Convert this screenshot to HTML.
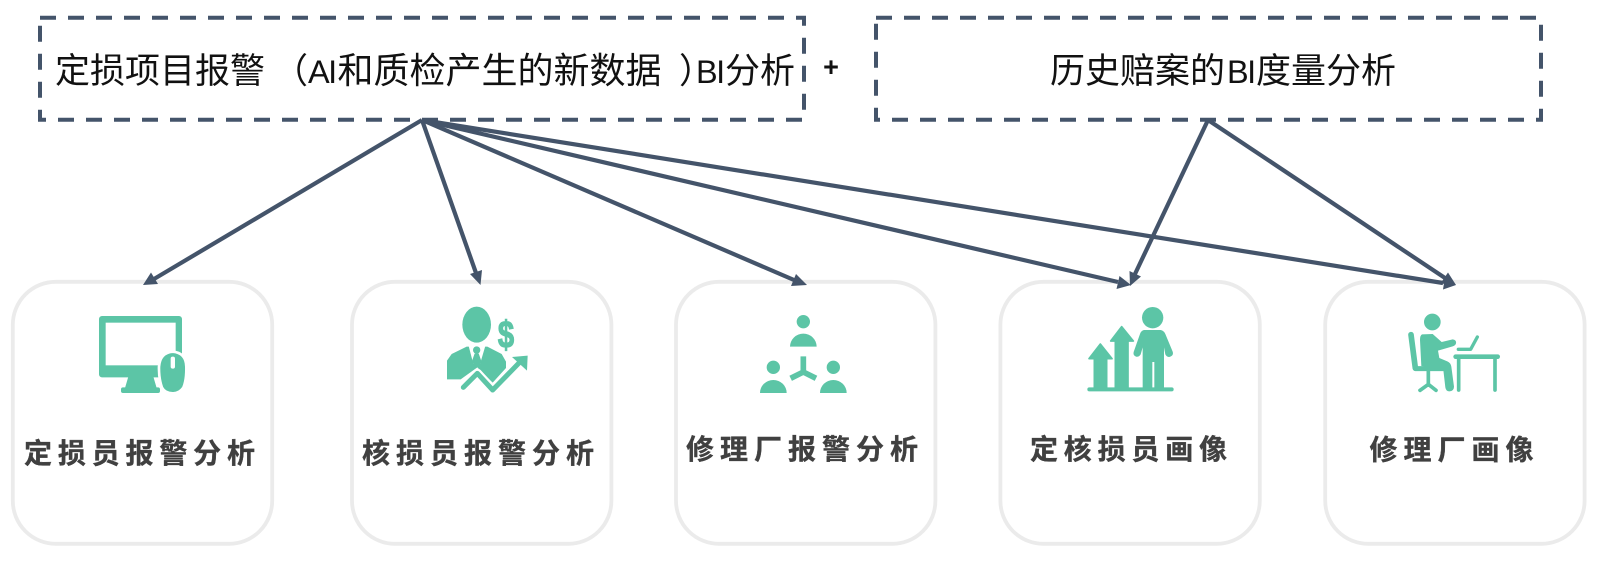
<!DOCTYPE html>
<html lang="zh">
<head>
<meta charset="utf-8">
<style>
html,body{margin:0;padding:0;background:#fff;width:1600px;height:570px;overflow:hidden}
svg{display:block}
.top{font-family:"Liberation Sans","Noto Sans CJK SC",sans-serif;font-size:35px;fill:#111;text-spacing-trim:space-all}
.lat{font-size:32.5px;letter-spacing:-1.5px}
.lab{font-family:"Liberation Sans","Noto Sans CJK SC",sans-serif;font-size:28px;font-weight:700;fill:#404040;stroke:#404040;stroke-width:.35}
.card{fill:#fff;stroke:#ebebeb;stroke-width:3.8}
.dash{fill:none;stroke:#44546a;stroke-width:4;stroke-dasharray:16 12}
.arr{stroke:#44546a;stroke-width:4.2;fill:none}
.hd{fill:#44546a}
.g{fill:#5cc5a6}
.gs{fill:none;stroke:#5cc5a6;stroke-linecap:round;stroke-linejoin:round}
</style>
</head>
<body>
<svg width="1600" height="570" viewBox="0 0 1600 570" xmlns="http://www.w3.org/2000/svg">
<!-- cards -->
<rect class="card" x="12.8" y="281.8" width="259.4" height="262" rx="43"/>
<rect class="card" x="352" y="281.8" width="259.4" height="262" rx="43"/>
<rect class="card" x="676" y="281.8" width="259.4" height="262" rx="43"/>
<rect class="card" x="1000.4" y="281.8" width="259.4" height="262" rx="43"/>
<rect class="card" x="1325.2" y="281.8" width="259.4" height="262" rx="43"/>

<!-- dashed boxes -->
<path class="dash" d="M40 17.7H804V119.7H40Z"/>
<path class="dash" d="M876 17.7H1541V119.7H876Z"/>

<text class="top" y="83"><tspan x="55">定损项目报警</tspan> <tspan x="273">（</tspan><tspan x="308" class="lat">AI</tspan><tspan x="337.5" font-size="36">和质检产生的新数据</tspan><tspan x="679">）</tspan><tspan x="696" class="lat">BI</tspan><tspan x="725">分析</tspan></text>
<text class="top" y="83"><tspan x="1050">历史赔案的</tspan><tspan x="1227" class="lat">BI</tspan><tspan x="1256">度量分析</tspan></text>
<text x="831" y="76" text-anchor="middle" font-family="Liberation Sans, sans-serif" font-size="27" font-weight="700" fill="#111">+</text>

<!-- connectors -->
<line class="arr" x1="422" y1="120" x2="154" y2="279"/>
<polygon class="hd" points="143,285 151,272.5 158,284"/>
<line class="arr" x1="422" y1="120" x2="476" y2="273"/>
<polygon class="hd" points="480.5,285 470,274 482,270"/>
<line class="arr" x1="422" y1="120" x2="794" y2="280"/>
<polygon class="hd" points="807,285 791,286 796,274"/>
<line class="arr" x1="422" y1="120" x2="1118" y2="282"/>
<polygon class="hd" points="1131,285 1116.5,289 1119.5,276"/>
<line class="arr" x1="422" y1="120" x2="1443" y2="283"/>
<polygon class="hd" points="1456,285 1443,289.5 1445,276.5"/>
<line class="arr" x1="1208" y1="120" x2="1135" y2="274"/>
<polygon class="hd" points="1130,286 1129.5,271 1141,276.5"/>
<line class="arr" x1="1208" y1="120" x2="1445" y2="278"/>
<polygon class="hd" points="1456,285 1440.5,283.5 1448,272.5"/>

<!-- icon 1 monitor -->
<g transform="translate(0 270) scale(.33333)">
<rect class="g" x="297" y="138" width="249" height="184" rx="9"/>
<rect x="317" y="158" width="210" height="128" fill="#fff"/>
<polygon class="g" points="385,320 460,320 470,354 375,354"/>
<rect class="g" x="363" y="352" width="117" height="17" rx="6"/>
<path class="g" stroke="#fff" stroke-width="8" d="M518 245Q558 248 559 290Q560 330 550 353Q537 371 518 370Q495 370 486 353Q476 325 477 290Q480 248 518 245Z"/>
<rect x="512" y="260" width="13" height="36" rx="6" fill="#fff"/>
</g>

<!-- icon 2 person with dollar -->
<g transform="translate(400 280) scale(.33333)">
<ellipse class="g" cx="230" cy="134" rx="43" ry="54"/>
<polygon class="g" points="141,298 141,242 155,222 200,200 262,200 305,222 318,245 318,264 278,308 232,262 182,298"/>
<polygon points="206,198 256,198 240,252 220,252" fill="#fff"/>
<circle class="g" cx="230" cy="210" r="11"/>
<polygon class="g" points="224,220 236,220 245,246 230,263 215,246"/>
<polyline points="190,322 232,280 278,330 358,248" fill="none" stroke="#fff" stroke-width="28" stroke-linejoin="round"/>
<polyline class="gs" points="190,322 232,280 278,330 358,248" stroke-width="15"/>
<polygon class="g" points="336,231 383,227 381,272"/>
<text transform="translate(318 202) scale(.95 1.25)" text-anchor="middle" font-family="Liberation Sans, sans-serif" font-size="92" font-weight="700" fill="#5cc5a6" stroke="#5cc5a6" stroke-width="3">$</text>
</g>

<!-- icon 3 three people -->
<g transform="translate(720 290) scale(.33333)">
<circle class="g" cx="250" cy="95" r="20"/>
<path class="g" d="M210 170A40 39 0 0 1 290 170Z"/>
<circle class="g" cx="160" cy="232" r="20"/>
<path class="g" d="M120 309A40 39 0 0 1 200 309Z"/>
<circle class="g" cx="340" cy="232" r="20"/>
<path class="g" d="M300 309A40 39 0 0 1 380 309Z"/>
<path d="M250 199V246M250 246L212 265M250 246L288 265" fill="none" stroke="#5cc5a6" stroke-width="17"/>
</g>

<!-- icon 4 growth -->
<g transform="translate(1040 260) scale(.33333)">
<circle class="g" cx="338" cy="173" r="32"/>
<path class="g" d="M312 210L362 210Q372 212 376 222L398 275Q402 288 388 291Q380 291 376 283L372 262L372 385L343 385L343 306L337 306L337 385L308 385L308 262L302 283Q296 292 288 290Q277 285 282 273L300 222Q303 212 312 210Z"/>
<polygon class="g" stroke="#5cc5a6" stroke-width="5" stroke-linejoin="round" points="181,252 216,296 200,296 200,385 163,385 163,296 147,296"/>
<polygon class="g" stroke="#5cc5a6" stroke-width="5" stroke-linejoin="round" points="245,200 280,243 264,243 264,385 226,385 226,243 212,243"/>
<line class="gs" x1="148" y1="388" x2="395" y2="388" stroke-width="12"/>
</g>

<!-- icon 5 desk worker -->
<g transform="translate(1360 260) scale(.33333)">
<circle class="g" cx="217" cy="186" r="25"/>
<line class="gs" x1="153" y1="224" x2="166" y2="324" stroke-width="17"/>
<line class="gs" x1="166" y1="326" x2="250" y2="326" stroke-width="15"/>
<line class="gs" x1="205" y1="330" x2="205" y2="375" stroke-width="11"/>
<path class="gs" d="M180 391L205 373L228 391" stroke-width="11"/>
<path class="g" d="M186 223L218 222L245 246L278 238Q290 240 288 250Q286 257 278 259L234 272L238 294L262 304Q272 308 274 320L282 380Q282 394 268 394Q258 394 256 382L250 330L184 318L180 240Q180 226 186 223Z"/>
<path class="gs" d="M295 268H332L352 231" stroke-width="10"/>
<line class="gs" x1="287" y1="290" x2="413" y2="290" stroke-width="14"/>
<line class="gs" x1="296" y1="292" x2="296" y2="390" stroke-width="11"/>
<line class="gs" x1="405" y1="292" x2="405" y2="390" stroke-width="11"/>
</g>

<!-- labels -->
<text class="lab" x="24" y="463" textLength="231" lengthAdjust="spacing">定损员报警分析</text>
<text class="lab" x="362" y="463" textLength="232" lengthAdjust="spacing">核损员报警分析</text>
<text class="lab" x="686" y="459" textLength="232" lengthAdjust="spacing">修理厂报警分析</text>
<text class="lab" x="1030" y="459" textLength="197" lengthAdjust="spacing">定核损员画像</text>
<text class="lab" x="1369.5" y="459.5" textLength="164" lengthAdjust="spacing">修理厂画像</text>
</svg>
</body>
</html>
